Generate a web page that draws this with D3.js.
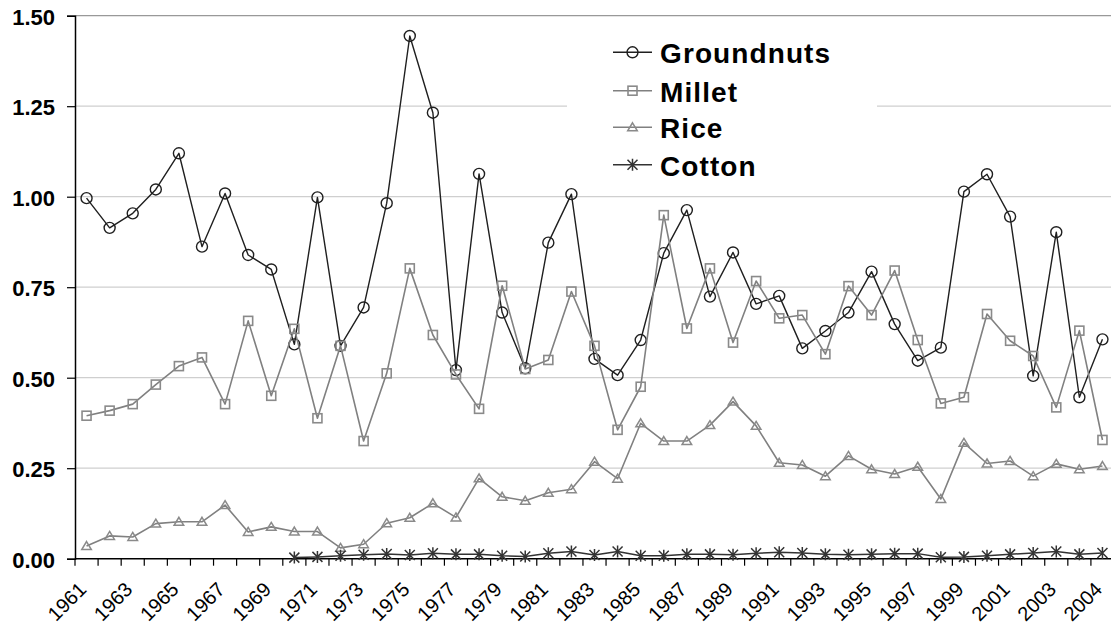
<!DOCTYPE html>
<html>
<head>
<meta charset="utf-8">
<script src="https://cdn.jsdelivr.net/npm/d3@7"></script>
<style>
  html, body { margin: 0; padding: 0; background: #fff; }
  svg { display: block; }
</style>
</head>
<body>
<svg id="chart" width="1111" height="629"></svg>
<script>
// ---------- DATA ----------
const years = d3.range(1961, 2006).map(String);            // 45 categories
const tickLabels = ["1961","1963","1965","1967","1969","1971","1973","1975","1977","1979",
  "1981","1983","1985","1987","1989","1991","1993","1995","1997","1999","2001","2003","2004"];
const yTicks = [0, 0.25, 0.5, 0.75, 1.0, 1.25, 1.5];

const groundnuts = [0.996,0.914,0.954,1.020,1.120,0.862,1.009,0.839,0.799,0.592,
  0.998,0.588,0.694,0.982,1.444,1.232,0.521,1.063,0.680,0.526,
  0.873,1.007,0.552,0.507,0.604,0.844,0.963,0.724,0.846,0.704,
  0.726,0.581,0.629,0.680,0.793,0.648,0.547,0.583,1.014,1.062,
  0.945,0.505,0.902,0.446,0.606];
const millet = [0.395,0.409,0.427,0.481,0.532,0.556,0.427,0.657,0.450,0.635,
  0.388,0.588,0.325,0.512,0.802,0.618,0.509,0.414,0.754,0.524,
  0.549,0.738,0.588,0.356,0.475,0.949,0.636,0.802,0.597,0.767,
  0.664,0.673,0.565,0.753,0.673,0.796,0.604,0.429,0.446,0.676,
  0.602,0.560,0.418,0.630,0.328];
const rice = [0.035,0.063,0.060,0.097,0.102,0.102,0.148,0.074,0.088,0.075,
  0.075,0.030,0.040,0.098,0.113,0.153,0.114,0.222,0.171,0.160,
  0.182,0.192,0.268,0.221,0.374,0.325,0.325,0.369,0.434,0.367,
  0.265,0.259,0.228,0.284,0.247,0.234,0.254,0.165,0.320,0.263,
  0.270,0.228,0.262,0.247,0.256];
const cotton = [null,null,null,null,null,null,null,null,null,0.003,
  0.005,0.008,0.011,0.013,0.010,0.015,0.012,0.012,0.008,0.006,
  0.015,0.020,0.010,0.020,0.008,0.008,0.012,0.012,0.011,0.015,
  0.018,0.016,0.012,0.011,0.012,0.014,0.014,0.004,0.005,0.008,
  0.012,0.016,0.020,0.012,0.016];
const seriesNames = ["Groundnuts","Millet","Rice","Cotton"];

// ---------- LAYOUT ----------
const svg = d3.select("#chart");
const plotL = 75, plotR = 1114, plotT = 15.7, plotB = 558.7;

const x = d3.scaleBand().domain(years).range([plotL, plotR]).padding(0);
const y = d3.scaleLinear().domain([0, 1.5]).range([plotB, plotT]);
const cx = d => x(d) + x.bandwidth() / 2;

const series = [
  { name: seriesNames[0], values: groundnuts, color: "#1f1f1f", mcolor: "#1f1f1f", width: 1.4, marker: "circle" },
  { name: seriesNames[1], values: millet, color: "#808080", mcolor: "#8a8a8a", width: 1.6, marker: "square" },
  { name: seriesNames[2], values: rice, color: "#808080", mcolor: "#8a8a8a", width: 1.6, marker: "triangle" },
  { name: seriesNames[3], values: cotton, color: "#333333", mcolor: "#333333", width: 1.5, marker: "star" }
];

// gridlines
svg.append("g").selectAll("line").data(yTicks.filter(v => v > 0)).join("line")
  .attr("x1", plotL).attr("x2", 1111)
  .attr("y1", d => y(d)).attr("y2", d => y(d))
  .attr("stroke", d => d === 1.5 ? "#999" : "#cfcfcf")
  .attr("stroke-width", 1.2);

// legend background (white box hiding gridline)
svg.append("rect").attr("x", 567).attr("y", 25).attr("width", 310).attr("height", 165).attr("fill", "#fff");

// y axis
const yAxis = d3.axisLeft(y).tickValues(yTicks).tickFormat(d3.format(".2f")).tickSize(8).tickPadding(12);
const gy = svg.append("g").attr("transform", `translate(${plotL},0)`).call(yAxis);
gy.select(".domain").attr("stroke", "#000").attr("stroke-width", 1.5);
gy.selectAll(".tick line").attr("stroke", "#000").attr("stroke-width", 1.2);
gy.selectAll(".tick text").attr("font-family", "Liberation Sans, Arial, sans-serif")
  .attr("font-size", 22).attr("font-weight", "bold").attr("fill", "#000").attr("dy", "0.38em");

// x axis: ticks at category boundaries
const gx = svg.append("g");
gx.append("line").attr("x1", plotL).attr("x2", 1111).attr("y1", plotB).attr("y2", plotB)
  .attr("stroke", "#000").attr("stroke-width", 1.5);
gx.selectAll("line.tk").data(years).join("line").attr("class", "tk")
  .attr("x1", d => x(d)).attr("x2", d => x(d))
  .attr("y1", plotB).attr("y2", plotB + 7)
  .attr("stroke", "#000").attr("stroke-width", 1.2);
gx.selectAll("text").data(tickLabels).join("text")
  .attr("transform", (d, i) => `translate(${cx(years[i * 2]) + 1},${plotB + 32}) rotate(-45)`)
  .attr("text-anchor", "end")
  .attr("font-family", "Liberation Sans, Arial, sans-serif")
  .attr("font-size", 20).attr("fill", "#000")
  .text(d => d);

// marker drawing
function drawMarker(g, type, color) {
  if (type === "circle") {
    g.append("circle").attr("r", 5.5).attr("fill", "none").attr("stroke", color).attr("stroke-width", 1.4);
  } else if (type === "square") {
    g.append("rect").attr("x", -4.5).attr("y", -4.5).attr("width", 9).attr("height", 9)
      .attr("fill", "none").attr("stroke", color).attr("stroke-width", 1.6);
  } else if (type === "triangle") {
    g.append("path").attr("d", "M0,-4.5L4.8,3.5L-4.8,3.5Z")
      .attr("fill", "none").attr("stroke", color).attr("stroke-width", 1.5);
  } else if (type === "star") {
    g.append("path").attr("d", "M0,-6V6M-5,-5L5,5M-5,5L5,-5")
      .attr("fill", "none").attr("stroke", color).attr("stroke-width", 1.5);
  }
}

// series
series.forEach(s => {
  const pts = s.values.map((v, i) => ({ v, i })).filter(p => p.v !== null);
  const line = d3.line().x(p => cx(years[p.i])).y(p => y(p.v));
  svg.append("path").datum(pts).attr("d", line)
    .attr("fill", "none").attr("stroke", s.color).attr("stroke-width", s.width)
    .attr("stroke-linejoin", "round");
  const mg = svg.append("g");
  pts.forEach(p => {
    const g = mg.append("g").attr("transform", `translate(${cx(years[p.i])},${y(p.v)})`);
    drawMarker(g, s.marker, s.mcolor);
  });
});

// legend
const baselines = [63.3, 101.7, 138.3, 175.7];
series.forEach((s, k) => {
  const by = baselines[k];
  const g = svg.append("g");
  g.append("line").attr("x1", 613).attr("x2", 652).attr("y1", by - 11).attr("y2", by - 11)
    .attr("stroke", s.color).attr("stroke-width", 1.4);
  const mg = g.append("g").attr("transform", `translate(632.5,${by - 11})`);
  drawMarker(mg, s.marker, s.mcolor);
  g.append("text").attr("x", 660).attr("y", by)
    .attr("font-family", "Liberation Sans, Arial, sans-serif")
    .attr("font-size", 28).attr("font-weight", "bold").attr("letter-spacing", 1.1)
    .attr("fill", "#000").text(s.name);
});
</script>
</body>
</html>
